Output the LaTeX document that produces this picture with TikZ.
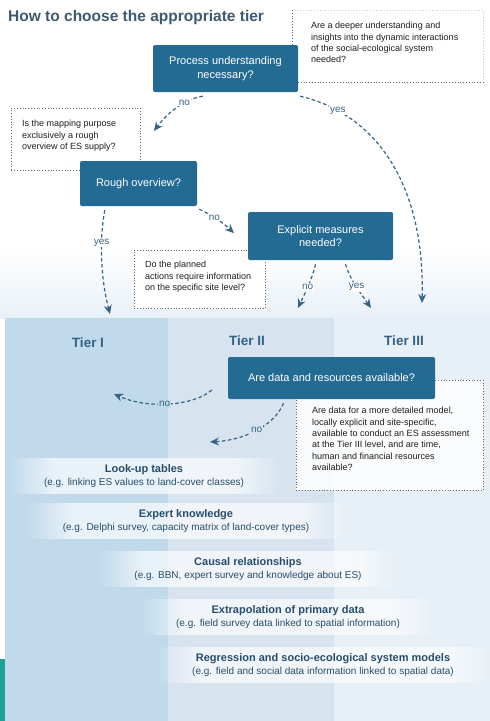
\documentclass[tikz,border=0pt]{standalone}
\usepackage{fontspec}
\setmainfont{Liberation Sans}
\usetikzlibrary{arrows.meta,fadings}
\definecolor{boxblue}{RGB}{36,107,148}
\definecolor{tierone}{RGB}{192,218,236}
\definecolor{tiertwo}{RGB}{215,228,240}
\definecolor{tierthree}{RGB}{232,240,247}
\definecolor{tealstrip}{RGB}{32,160,150}
\definecolor{arrowc}{RGB}{55,100,130}
\definecolor{titlec}{RGB}{62,90,110}
\definecolor{tierc}{RGB}{50,98,132}
\definecolor{entryc}{RGB}{38,78,108}
\definecolor{notec}{RGB}{30,30,30}
\definecolor{dotc}{RGB}{105,105,105}
\newcommand{\etitle}[1]{{\bfseries\fontsize{11}{13}\selectfont #1}}
\pgfdeclarelayer{background}
\pgfsetlayers{background,main}
\tikzfading[name=fadeinband, left color=transparent!100, right color=transparent!35]
\tikzfading[name=fadeoutband, left color=transparent!35, right color=transparent!100]
\begin{document}
\begin{tikzpicture}[x=1pt,y=-1pt,
  decision/.style={fill=boxblue, text=white, rounded corners=2pt, align=center,
    font=\fontsize{11}{13.5}\selectfont, inner sep=0pt},
  noteframe/.style={draw=dotc, dotted, line width=0.8pt, inner sep=0pt, anchor=north west},
  notetext/.style={anchor=north west, align=left, text=notec,
    font=\fontsize{9}{11.4}\selectfont, inner sep=0pt},
  flow/.style={draw=arrowc, line width=1.2pt, dash pattern=on 3.5pt off 2.5pt,
    -{Stealth[length=9pt,width=8pt]}},
  lbl/.style={font=\fontsize{10}{11}\selectfont, text=arrowc, fill=white, inner sep=1pt},
  tierlbl/.style={font=\bfseries\fontsize{13.5}{15}\selectfont, text=tierc},
  entry/.style={align=center, font=\fontsize{10}{13}\selectfont, text=entryc, inner sep=1pt}
]
\useasboundingbox (0,0) rectangle (490,721);
\begin{pgfonlayer}{background}
  \fill[white] (0,0) rectangle (490,721);
  \shade[top color=white, bottom color=tierthree] (0,250) rectangle (490,318);
  \fill[tierone] (5,318) rectangle (168,721);
  \fill[tiertwo] (168,318) rectangle (334,721);
  \fill[tierthree] (334,318) rectangle (490,721);
  \fill[tealstrip] (0,659) rectangle (5,721);
\end{pgfonlayer}

% title
\node[anchor=west, font=\bfseries\fontsize{15.5}{18}\selectfont, text=titlec, inner sep=0pt] (title) at (8,17) {How to choose the appropriate tier};

% note 1 (top right)
\node[minimum width=191pt, minimum height=72pt, inner sep=0pt, anchor=north west] (n1) at (292,10) {};
\draw[dotc!35, dotted, line width=0.8pt] (n1.south east) -- (n1.north east) -- (n1.north west);
\draw[dotc, dotted, line width=0.8pt] (n1.north west) -- (n1.south west) -- (n1.south east);
\node[notetext] (n1t) at (311,22) {Are a deeper understanding and\\insights into the dynamic interactions\\of the social-ecological system\\needed?};

% note 2 (left)
\node[noteframe, minimum width=129pt, minimum height=62pt] (n2) at (11,108) {};
\node[notetext] (n2t) at (22,120) {Is the mapping purpose\\exclusively a rough\\overview of ES supply?};

% note 3
\node[noteframe, fill=white, minimum width=131pt, minimum height=58pt] (n3) at (134,250) {};
\node[notetext] (n3t) at (145,261) {Do the planned\\actions require information\\on the specific site level?};

% note 4
\node[noteframe, fill=white, fill opacity=0.85, minimum width=187pt, minimum height=110pt] (n4) at (296,380) {};
\node[notetext] (n4t) at (312,407) {Are data for a more detailed model,\\locally explicit and site-specific,\\available to conduct an ES assessment\\at the Tier III level, and are time,\\human and financial resources\\available?};

% decision boxes
\node[decision, minimum width=145pt, minimum height=47pt] (proc) at (225.5,68.5) {Process understanding\\necessary?};
\node[decision, minimum width=117pt, minimum height=45pt] (rough) at (138.5,183.5) {Rough overview?};
\node[decision, minimum width=145pt, minimum height=48pt] (expl) at (320.5,236) {Explicit measures\\needed?};

% tier labels
\node[tierlbl] (t1lbl) at (88,343) {Tier I};
\node[tierlbl] (t2lbl) at (247,341) {Tier II};
\node[tierlbl] (t3lbl) at (404,341) {Tier III};

\node[decision, minimum width=207pt, minimum height=42pt] (data) at (331.5,378) {Are data and resources available?};

% free ends of connectors
\coordinate (tipA) at (154,131);
\coordinate (tipB) at (422,303);
\coordinate (tipC) at (110,314);
\coordinate (tipD) at (234,233);
\coordinate (tipE) at (298,308);
\coordinate (tipF) at (371,308);
\coordinate (tipG) at (114,394);
\coordinate (tipH) at (210,442);

\draw[flow] ([shift={(50,4)}]proc.south west) .. controls (185,99) and (168,112) .. (tipA)
  node[lbl, pos=0.35] {no};
\draw[flow] ([shift={(2,4)}]proc.south east) .. controls (380,115) and (425,190) .. (tipB)
  node[lbl, pos=0.17] {yes};
\draw[flow] ([shift={(25,4)}]rough.south west) .. controls (99,240) and (101,280) .. (tipC)
  node[lbl, pos=0.33] {yes};
\draw[flow] ([shift={(2,3)}]rough.south east) .. controls (210,214) and (222,222) .. (tipD)
  node[lbl, pos=0.45] {no};
\draw[flow] ([shift={(-5,4)}]expl.south) .. controls (312,280) and (304,295) .. (tipE)
  node[lbl, pos=0.5] {no};
\draw[flow] ([shift={(25,4)}]expl.south) .. controls (350,280) and (362,295) .. (tipF)
  node[lbl, pos=0.5] {yes};
\draw[flow] ([shift={(-16,12)}]data.west) .. controls (195,405) and (150,410) .. (tipG)
  node[lbl, fill=tierone, pos=0.55] {no};
\draw[flow] ([shift={(-48,4)}]data.south) .. controls (275,425) and (245,440) .. (tipH)
  node[lbl, fill=tiertwo, pos=0.5] {no};

% method entries
\node[entry] (e1) at (144,476) {\etitle{Look-up tables}\\(e.g. linking ES values to land-cover classes)};
\node[entry] (e2) at (186,521) {\etitle{Expert knowledge}\\(e.g. Delphi survey, capacity matrix of land-cover types)};
\node[entry] (e3) at (248,569) {\etitle{Causal relationships}\\(e.g. BBN, expert survey and knowledge about ES)};
\node[entry] (e4) at (288,617) {\etitle{Extrapolation of primary data}\\(e.g. field survey data linked to spatial information)};
\node[entry] (e5) at (323,665) {\etitle{Regression and socio-ecological system models}\\(e.g. field and social data information linked to spatial data)};

\begin{pgfonlayer}{background}
  \foreach \e in {e1,e2,e3,e4,e5}{
    \path[fill=white, fill opacity=0.65] ([shift={(10,-5)}]\e.north west) rectangle ([shift={(-10,5)}]\e.south east);
    \path[fill=white, path fading=fadeinband] ([shift={(-35,-5)}]\e.north west) rectangle ([shift={(10,5)}]\e.south west);
    \path[fill=white, path fading=fadeoutband] ([shift={(-10,-5)}]\e.north east) rectangle ([shift={(35,5)}]\e.south east);
  }
\end{pgfonlayer}
\end{tikzpicture}
\end{document}
